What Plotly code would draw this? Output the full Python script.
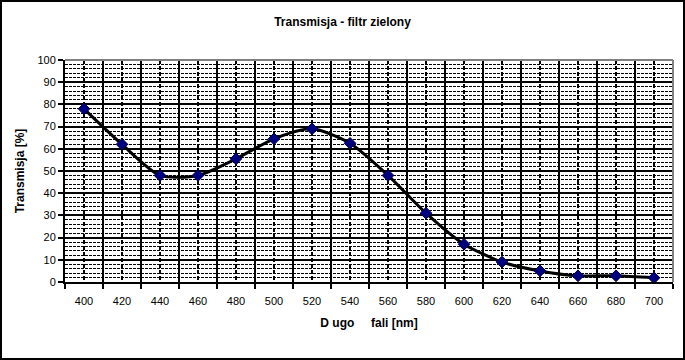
import plotly.graph_objects as go

wavelength = [400, 420, 440, 460, 480, 500, 520, 540, 560, 580, 600, 620, 640, 660, 680, 700]
transmission = [78, 62, 48, 48, 55.5, 64.5, 69, 62.5, 48, 31, 17, 9, 5, 2.8, 2.8, 1.9]
boundaries = [390 + 20 * i for i in range(17)]
y_ticks = list(range(0, 101, 10))

FONT = "Liberation Sans, Arial, sans-serif"

fig = go.Figure()
fig.add_trace(go.Scatter(
    x=wavelength, y=transmission, mode="lines+markers",
    line=dict(color="black", width=3, shape="spline", smoothing=0.7),
    marker=dict(symbol="diamond", size=9, color="#000080",
                line=dict(color="#000040", width=1)),
    showlegend=False, cliponaxis=False,
))

# outer frame and grey plot-area top/right border
L, R, T, B = 65, 673, 60, 282
W, H = R - L, B - T
def px(x): return (x - L) / W
def py(y): return (B - y) / H

fig.add_shape(type="rect", xref="paper", yref="paper",
              x0=px(1), x1=px(684), y0=py(359), y1=py(1),
              line=dict(color="black", width=2), layer="above")
fig.add_shape(type="line", xref="paper", yref="paper", x0=0, x1=1, y0=1, y1=1,
              line=dict(color="#808080", width=2), layer="above")
fig.add_shape(type="line", xref="paper", yref="paper", x0=1, x1=1, y0=0, y1=1,
              line=dict(color="#808080", width=2), layer="above")

fig.update_layout(
    width=685, height=360,
    margin=dict(l=L, r=685 - R, t=T, b=360 - B),
    paper_bgcolor="white", plot_bgcolor="white",
    font=dict(family=FONT, size=11, color="black"),
    title=dict(text="<b>Transmisja - filtr zielony</b>", x=0.5, xanchor="center",
               y=1 - 22 / 360, yanchor="middle", font=dict(size=12, family=FONT)),
    xaxis=dict(
        range=[390, 710], tickmode="array", tickvals=wavelength,
        ticktext=[str(v) for v in wavelength],
        ticks="outside", ticklen=8, tickcolor="rgba(0,0,0,0)",
        showgrid=True, gridcolor="black", gridwidth=1.5, griddash="4px,2px",
        showline=True, linecolor="black", linewidth=2,
        zeroline=False,
        minor=dict(tickmode="array", tickvals=boundaries, ticks="outside",
                   ticklen=5, tickcolor="black", tickwidth=2,
                   showgrid=True, gridcolor="black", gridwidth=2, griddash="solid"),
        title=dict(text="<b>D\u00a0ugo\u00a0\u00a0\u00a0\u00a0\u00a0fali [nm]</b>",
                   font=dict(size=12, family=FONT), standoff=12),
        tickfont=dict(size=11),
    ),
    yaxis=dict(
        range=[0, 100], tickmode="array", tickvals=y_ticks,
        ticks="outside", ticklen=5, tickcolor="black", tickwidth=1.5,
        showgrid=True, gridcolor="black", gridwidth=2,
        showline=True, linecolor="black", linewidth=2,
        zeroline=False,
        minor=dict(dtick=2, tick0=0, showgrid=True, gridcolor="black",
                   gridwidth=1, griddash="3px,1px", ticks=""),
        title=dict(text="<b>Transmisja [%]</b>", font=dict(size=12, family=FONT), standoff=10),
        tickfont=dict(size=11),
    ),
)

fig.write_html("out.html", config={"displayModeBar": False},
               post_script="document.body.style.margin='0';document.body.style.overflow='hidden';")
